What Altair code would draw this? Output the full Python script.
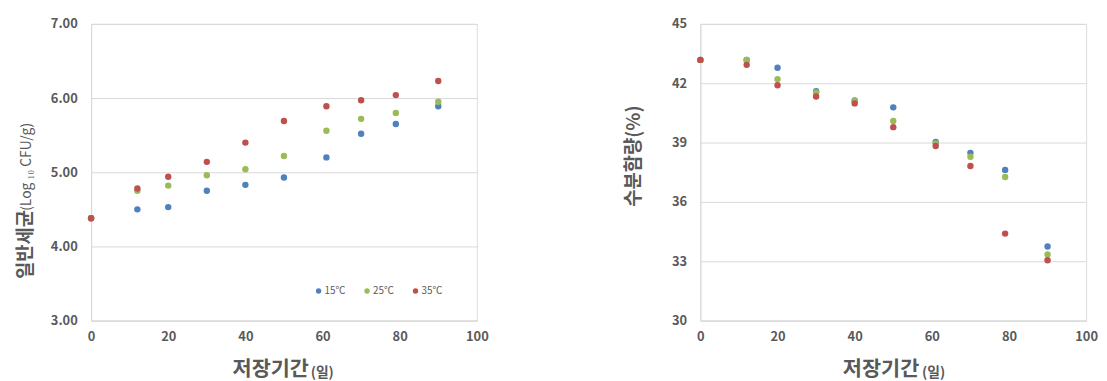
import altair as alt
import pandas as pd

# ---- data ----
days = [0, 12, 20, 30, 40, 50, 61, 70, 79, 90]
temps = ["15℃", "25℃", "35℃"]
colors = ["#4F81BD", "#9BBB59", "#C0504D"]

bac_15 = [4.38, 4.50, 4.53, 4.75, 4.83, 4.93, 5.20, 5.52, 5.65, 5.89]
bac_25 = [4.38, 4.75, 4.82, 4.96, 5.04, 5.22, 5.56, 5.72, 5.80, 5.95]
bac_35 = [4.38, 4.78, 4.94, 5.14, 5.40, 5.69, 5.89, 5.97, 6.04, 6.23]

moist_15 = [43.18, 43.18, 42.78, 41.60, 41.13, 40.78, 39.03, 38.48, 37.62, 33.75]
moist_25 = [43.18, 43.18, 42.21, 41.53, 41.10, 40.09, 38.96, 38.28, 37.26, 33.34]
moist_35 = [43.18, 42.93, 41.90, 41.33, 40.98, 39.78, 38.83, 37.82, 34.40, 33.05]

x_ticks = [0, 20, 40, 60, 80, 100]
bac_ticks = [3, 4, 5, 6, 7]
moist_ticks = [30, 33, 36, 39, 42, 45]

FONT = "Noto Sans CJK KR"
GRAY = "#595959"
GRID = "#D9D9D9"


def make_df(series):
    rows = []
    for i, (t, vals) in enumerate(zip(temps, series)):
        for d, v in zip(days, vals):
            rows.append({"day": d, "value": v, "temp": t, "ord": i})
    return pd.DataFrame(rows)


def text_layer(txt, x, y, size, angle=0, bold=True):
    return alt.Chart(pd.DataFrame({"t": [txt]})).mark_text(
        font=FONT, fontSize=size, fontWeight="bold" if bold else "normal",
        color=GRAY, align="left", baseline="alphabetic", angle=angle,
    ).encode(text="t:N", x=alt.value(x), y=alt.value(y))


def panel(df, ydomain, yticks, yfmt, lx, ly, titles):
    color = alt.Color(
        "temp:N",
        scale=alt.Scale(domain=temps, range=colors),
        legend=alt.Legend(
            orient="none", legendX=lx, legendY=ly, direction="horizontal",
            title=None, symbolType="circle", symbolSize=30, symbolStrokeWidth=0,
            labelFontSize=10, labelColor=GRAY, labelFont=FONT, columnPadding=16,
            labelOffset=1, padding=0,
        ),
    )
    pts = alt.Chart(df).mark_circle(size=42, opacity=1).encode(
        x=alt.X(
            "day:Q",
            scale=alt.Scale(domain=[0, 100], nice=False),
            axis=alt.Axis(
                values=x_ticks, title=None, grid=False, ticks=False,
                domainColor=GRID, labelPadding=10, labelFontSize=13,
                labelFontWeight="bold", labelColor=GRAY, labelFont=FONT,
                labelFlush=False,
            ),
        ),
        y=alt.Y(
            "value:Q",
            scale=alt.Scale(domain=ydomain, nice=False, zero=False),
            axis=alt.Axis(
                values=yticks, format=yfmt, title=None, gridColor=GRID,
                ticks=False, domainColor=GRID, labelPadding=14,
                labelFontSize=13, labelFontWeight="bold", labelColor=GRAY,
                labelFont=FONT, labelFlush=False,
            ),
        ),
        color=color,
        order=alt.Order("ord:Q"),
    )
    layers = [pts] + [text_layer(*t) for t in titles]
    return alt.layer(*layers).properties(width=390, height=300)


left = panel(
    make_df([bac_15, bac_25, bac_35]), [3, 7], bac_ticks, ".2f", 225, 265,
    [
        ("일반세균", -60, 258, 19, 270),
        ("(Log ₁₀ CFU/g)", -61, 189, 14, 270, False),
        ("저장기간", 143, 356, 21, 0),
        ("(일)", 222, 357, 14, 0),
    ],
)
right = panel(
    make_df([moist_15, moist_25, moist_35]), [30, 45], moist_ticks, "d", 32, 250,
    [
        ("수분함량(%)", -61, 185, 19, 270),
        ("저장기간", 144, 356, 21, 0),
        ("(일)", 224, 357, 14, 0),
    ],
)

chart = alt.hconcat(left, right, spacing=136).properties(
    padding={"left": 8, "top": 7, "right": 0, "bottom": 0}
).configure_view(stroke=None).configure(background="white")

chart.save("out.html", embed_options={"renderer": "svg", "actions": False})
